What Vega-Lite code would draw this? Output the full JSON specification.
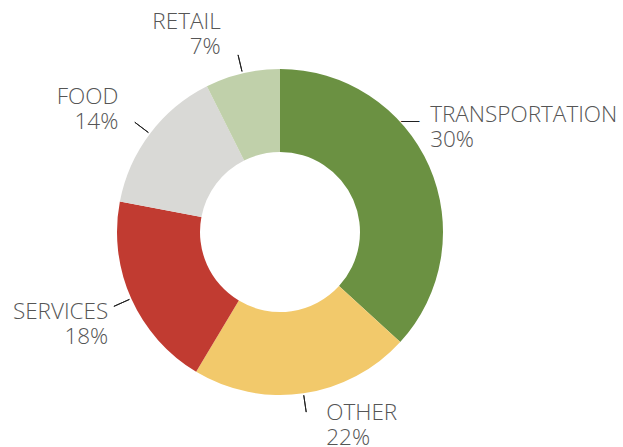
{
  "$schema": "https://vega.github.io/schema/vega-lite/v6.json",
  "width": 560,
  "height": 430,
  "autosize": "none",
  "padding": {"left": 0, "top": 17, "right": 63, "bottom": 0},
  "background": "white",
  "config": {
    "view": {"stroke": null},
    "text": {"font": "Open Sans", "fontSize": 22.5, "fontWeight": 300, "color": "#555555", "lineHeight": 25, "baseline": "middle", "lineBreak": "\n"}
  },
  "data": {
    "values": [
      {"category": "TRANSPORTATION", "label": "TRANSPORTATION\n30%", "value": 36.8},
      {"category": "OTHER", "label": "OTHER\n22%", "value": 21.8},
      {"category": "SERVICES", "label": "SERVICES\n18%", "value": 19.4},
      {"category": "FOOD", "label": "FOOD\n14%", "value": 14.6},
      {"category": "RETAIL", "label": "RETAIL\n7%", "value": 7.4}
    ]
  },
  "encoding": {
    "theta": {"field": "value", "type": "quantitative", "stack": true},
    "order": {"field": "value", "type": "quantitative", "sort": "descending"},
    "detail": {"field": "category", "type": "nominal"}
  },
  "layer": [
    {
      "mark": {"type": "arc", "innerRadius": 80, "outerRadius": 163},
      "encoding": {
        "color": {
          "field": "category",
          "type": "nominal",
          "scale": {
            "domain": ["TRANSPORTATION", "OTHER", "SERVICES", "FOOD", "RETAIL"],
            "range": ["#6b9142", "#f2c96b", "#c13b31", "#d9d9d6", "#c0d0aa"]
          },
          "legend": null
        }
      }
    },
    {
      "mark": {"type": "arc", "innerRadius": 165, "outerRadius": 182, "padAngle": 3, "fill": "transparent", "stroke": "#222222", "strokeWidth": 1},
      "encoding": {
        "strokeOpacity": {"condition": {"test": "datum.category === 'TRANSPORTATION'", "value": 0}, "value": 1}
      }
    },
    {
      "mark": {"type": "text", "align": "left", "radius": 175, "dx": -40, "dy": -40, "fontSize": 20, "color": "#222222"},
      "encoding": {
        "text": {"condition": {"test": "datum.category === 'TRANSPORTATION'", "value": "—"}, "value": ""}
      }
    },
    {
      "mark": {"type": "text", "align": "left", "radius": 175, "dx": -10, "dy": -46},
      "encoding": {
        "text": {"condition": {"test": "datum.category === 'TRANSPORTATION'", "field": "label", "type": "nominal"}, "value": ""}
      }
    },
    {
      "mark": {"type": "text", "align": "left", "radius": 175, "dx": 21, "dy": 8},
      "encoding": {
        "text": {"condition": {"test": "datum.category === 'OTHER'", "field": "label", "type": "nominal"}, "value": ""}
      }
    },
    {
      "mark": {"type": "text", "align": "right", "radius": 175, "dx": -12, "dy": 8},
      "encoding": {
        "text": {"condition": {"test": "datum.category === 'SERVICES'", "field": "label", "type": "nominal"}, "value": ""}
      }
    },
    {
      "mark": {"type": "text", "align": "right", "radius": 175, "dx": -22, "dy": -29},
      "encoding": {
        "text": {"condition": {"test": "datum.category === 'FOOD'", "field": "label", "type": "nominal"}, "value": ""}
      }
    },
    {
      "mark": {"type": "text", "align": "right", "radius": 175, "dx": -19, "dy": -40},
      "encoding": {
        "text": {"condition": {"test": "datum.category === 'RETAIL'", "field": "label", "type": "nominal"}, "value": ""}
      }
    }
  ]
}
